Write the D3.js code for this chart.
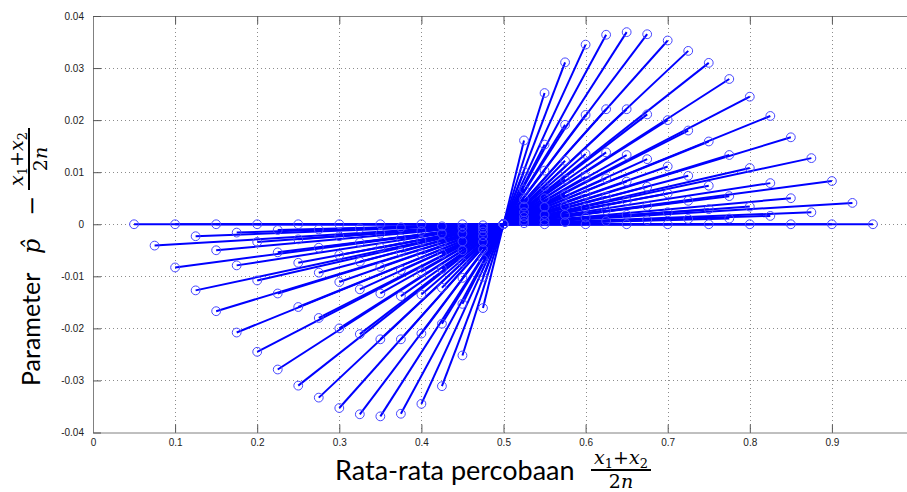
<!DOCTYPE html>
<html><head><meta charset="utf-8">
<script src="https://cdn.jsdelivr.net/npm/d3@7"></script>
<style>body{margin:0;background:#fff;} svg{display:block;background:#fff}</style>
</head><body><svg id="c" width="907" height="492"></svg>
<script>
// ---- data ----
const xTickValues = [0,0.1,0.2,0.3,0.4,0.5,0.6,0.7,0.8,0.9];
const xTickLabels = ["0","0.1","0.2","0.3","0.4","0.5","0.6","0.7","0.8","0.9"];
const yTickValues = [-0.04,-0.03,-0.02,-0.01,0,0.01,0.02,0.03,0.04];
const yTickLabels = ["-0.04","-0.03","-0.02","-0.01","0","0.01","0.02","0.03","0.04"];

// right-hand (upper) end of every segment
const rightX = [
 0.5,0.525,0.55,0.575,0.6,0.625,0.65,0.675,0.7,0.725,0.75,0.775,0.8,0.825,0.85,0.875,0.9,0.925,0.95,
 0.5,0.525,0.55,0.575,0.6,0.625,0.65,0.675,0.7,0.725,0.75,0.775,0.8,0.825,0.85,0.875,0.9,
 0.5,0.525,0.55,0.575,0.6,0.625,0.65,0.675,0.7,0.725,0.75,0.775,0.8,0.825,0.85,
 0.5,0.525,0.55,0.575,0.6,0.625,0.65,0.675,0.7,0.725,0.75,0.775,0.8,
 0.5,0.525,0.55,0.575,0.6,0.625,0.65,0.675,0.7,0.725,0.75,
 0.5,0.525,0.55,0.575,0.6,0.625,0.65,0.675,0.7,
 0.5,0.525,0.55,0.575,0.6,0.625,0.65,
 0.5,0.525,0.55,0.575,0.6,
 0.5,0.525,0.55,
 0.5];
const rightY = [
 0,0.0161,0.0252,0.0311,0.0345,0.0364,0.0369,0.0365,0.0353,0.0333,0.0310,0.0279,0.0245,0.0208,0.0167,0.0127,0.0083,0.0041,0,
 0,0.0101,0.0153,0.0191,0.0210,0.0221,0.0221,0.0211,0.0200,0.0180,0.0159,0.0133,0.0108,0.0079,0.0050,0.0023,0,
 0,0.0067,0.0103,0.0122,0.0135,0.0138,0.0133,0.0125,0.0111,0.0093,0.0074,0.0054,0.0034,0.0016,0,
 0,0.0048,0.0073,0.0086,0.0091,0.0088,0.0082,0.0072,0.0059,0.0045,0.0029,0.0011,0,
 0,0.0034,0.0050,0.0057,0.0057,0.0053,0.0045,0.0035,0.0023,0.0010,0,
 0,0.0023,0.0033,0.0035,0.0032,0.0027,0.0018,0.0008,0,
 0,0.0014,0.0018,0.0018,0.0013,0.0006,0,
 0,0.0007,0.0007,0.0004,0,
 0,0.0002,0,
 0];
// left-hand (lower) end of every segment
const leftX = [
 0.5,0.475,0.45,0.425,0.4,0.375,0.35,0.325,0.3,0.275,0.25,0.225,0.2,0.175,0.15,0.125,0.1,0.075,0.05,
 0.5,0.475,0.45,0.425,0.4,0.375,0.35,0.325,0.3,0.275,0.25,0.225,0.2,0.175,0.15,0.125,0.1,
 0.5,0.475,0.45,0.425,0.4,0.375,0.35,0.325,0.3,0.275,0.25,0.225,0.2,0.175,0.15,
 0.5,0.475,0.45,0.425,0.4,0.375,0.35,0.325,0.3,0.275,0.25,0.225,0.2,
 0.5,0.475,0.45,0.425,0.4,0.375,0.35,0.325,0.3,0.275,0.25,
 0.5,0.475,0.45,0.425,0.4,0.375,0.35,0.325,0.3,
 0.5,0.475,0.45,0.425,0.4,0.375,0.35,
 0.5,0.475,0.45,0.425,0.4,
 0.5,0.475,0.45,
 0.5];
const leftY = [
 0,-0.0161,-0.0252,-0.0311,-0.0345,-0.0364,-0.0369,-0.0365,-0.0353,-0.0333,-0.0310,-0.0279,-0.0245,-0.0208,-0.0167,-0.0127,-0.0083,-0.0041,0,
 0,-0.0101,-0.0153,-0.0191,-0.0210,-0.0221,-0.0221,-0.0211,-0.0200,-0.0180,-0.0159,-0.0133,-0.0108,-0.0079,-0.0050,-0.0023,0,
 0,-0.0067,-0.0103,-0.0122,-0.0135,-0.0138,-0.0133,-0.0125,-0.0111,-0.0093,-0.0074,-0.0054,-0.0034,-0.0016,0,
 0,-0.0048,-0.0073,-0.0086,-0.0091,-0.0088,-0.0082,-0.0072,-0.0059,-0.0045,-0.0029,-0.0011,0,
 0,-0.0034,-0.0050,-0.0057,-0.0057,-0.0053,-0.0045,-0.0035,-0.0023,-0.0010,0,
 0,-0.0023,-0.0033,-0.0035,-0.0032,-0.0027,-0.0018,-0.0008,0,
 0,-0.0014,-0.0018,-0.0018,-0.0013,-0.0006,0,
 0,-0.0007,-0.0007,-0.0004,0,
 0,-0.0002,0,
 0];

// ---- drawing ----
const svg = d3.select("#c");
const W = 907, H = 492;
const L = 93, R = 914, T = 16, B = 432.5;
const x = d3.scaleLinear().domain([0,1]).range([L, R]);
const y = d3.scaleLinear().domain([-0.04,0.04]).range([B, T]);

svg.append("rect").attr("width",W).attr("height",H).attr("fill","#fff");

// grid
const grid = svg.append("g").attr("stroke","#8c8c8c").attr("stroke-width",1)
  .attr("stroke-dasharray","1,3").attr("shape-rendering","crispEdges");
xTickValues.forEach(v => { if (v>0) grid.append("line")
  .attr("x1",Math.round(x(v))+0.5).attr("x2",Math.round(x(v))+0.5).attr("y1",T).attr("y2",B); });
yTickValues.forEach(v => { if (v>-0.04 && v<0.04) grid.append("line")
  .attr("x1",L).attr("x2",R).attr("y1",Math.round(y(v))+0.5).attr("y2",Math.round(y(v))+0.5); });

// segments
const idx = d3.range(rightX.length);
svg.append("g").selectAll("line").data(idx).join("line")
  .attr("x1", i => x(leftX[i])).attr("y1", i => y(leftY[i]))
  .attr("x2", i => x(rightX[i])).attr("y2", i => y(rightY[i]))
  .attr("stroke","#0000ff").attr("stroke-width",2);

// markers
const pts = idx.map(i => [leftX[i], leftY[i]]).concat(idx.map(i => [rightX[i], rightY[i]]));
svg.append("g").selectAll("circle").data(pts).join("circle")
  .attr("cx", d => x(d[0])).attr("cy", d => y(d[1])).attr("r",4.4)
  .attr("fill","none").attr("stroke","#4747ff").attr("stroke-width",1);

// axes
function styleAxis(g){
  g.select(".domain").attr("stroke","#808080");
  g.selectAll(".tick line").attr("stroke","#555");
  g.selectAll(".tick text").attr("fill","#222").style("font-family","'Liberation Sans', Arial, sans-serif").style("font-size","10px");
}
svg.append("g").attr("transform",`translate(0,${B})`)
  .call(d3.axisBottom(x).tickValues(xTickValues).tickFormat((d,i)=>xTickLabels[i]).tickSizeInner(-8).tickSizeOuter(0).tickPadding(6))
  .call(styleAxis);
svg.append("g").attr("transform",`translate(0,${T})`)
  .call(d3.axisTop(x).tickValues(xTickValues).tickFormat("").tickSizeInner(-8).tickSizeOuter(0))
  .call(styleAxis);
svg.append("g").attr("transform",`translate(${L},0)`)
  .call(d3.axisLeft(y).tickValues(yTickValues).tickFormat((d,i)=>yTickLabels[i]).tickSizeInner(-8).tickSizeOuter(0).tickPadding(9))
  .call(styleAxis);

// ---- labels ----
const sans = "Lato, 'Open Sans', sans-serif";
const serif = "'DejaVu Serif', 'Liberation Serif', serif";

function fraction(g, cx, barY, w){
  const num = g.append("text").attr("x",cx).attr("y",barY-6).attr("text-anchor","middle")
    .style("font-family",serif).style("font-size","19px").attr("fill","#000");
  num.append("tspan").style("font-style","italic").text("x");
  num.append("tspan").attr("dy",4).style("font-size","13px").text("1");
  num.append("tspan").attr("dy",-4).text("+");
  num.append("tspan").style("font-style","italic").text("x");
  num.append("tspan").attr("dy",4).style("font-size","13px").text("2");
  g.append("line").attr("x1",cx-w/2).attr("x2",cx+w/2).attr("y1",barY).attr("y2",barY)
    .attr("stroke","#000").attr("stroke-width",2);
  const den = g.append("text").attr("x",cx).attr("y",barY+18).attr("text-anchor","middle")
    .style("font-family",serif).style("font-size","19px").attr("fill","#000");
  den.append("tspan").text("2");
  den.append("tspan").style("font-style","italic").text("n");
}

// x label
const xl = svg.append("g");
xl.append("text").attr("x",335).attr("y",480).text("Rata-rata percobaan")
  .style("font-family",sans).style("font-size","27px").attr("fill","#000");
fraction(xl, 621, 470, 60);

// y label
const yl = svg.append("g").attr("transform","translate(40,386) rotate(-90)");
yl.append("text").attr("x",0).attr("y",0).text("Parameter")
  .style("font-family",sans).style("font-size","25px").attr("fill","#000");
yl.append("text").attr("x",132).attr("y",0).text("p\u0302")
  .style("font-family",serif).style("font-style","italic").style("font-size","24px").attr("fill","#000");
yl.append("text").attr("x",170).attr("y",0).text("\u2212")
  .style("font-family",serif).style("font-size","24px").attr("fill","#000");
fraction(yl, 227, -11, 62);
</script></body></html>
